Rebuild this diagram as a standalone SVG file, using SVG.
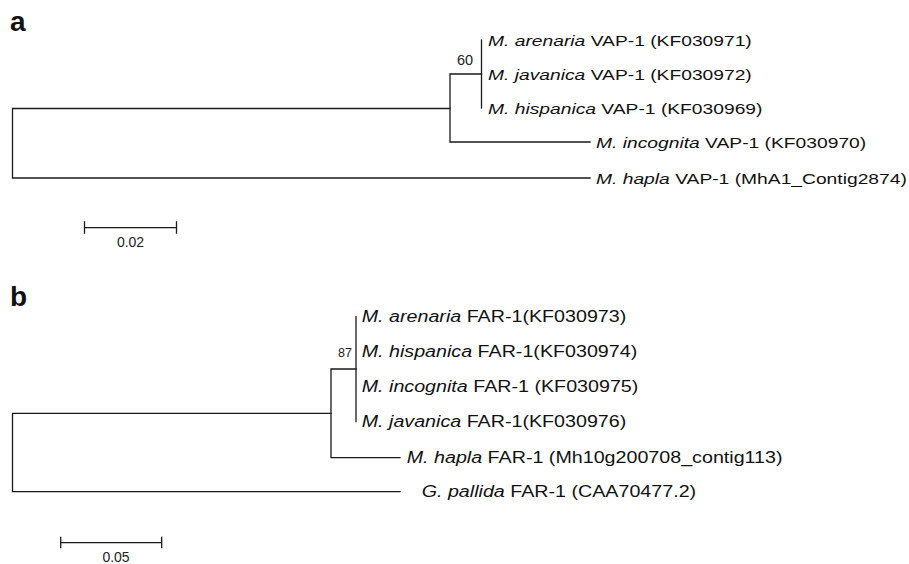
<svg xmlns="http://www.w3.org/2000/svg" width="909" height="564" viewBox="0 0 909 564">
<style>
  .br { fill: none; stroke: #1a1a1a; stroke-width: 1.3; stroke-linecap: square; }
  .lab { font-family: "Liberation Sans", Arial, sans-serif; fill: #111; }
  .la { font-size: 15.4px; }
  .lb { font-size: 15.75px; }
  .sp { font-style: italic; }
  .panel { font-family: "Liberation Sans", Arial, sans-serif; font-weight: bold; font-size: 28px; fill: #111; }
  .boot { font-family: "Liberation Sans", Arial, sans-serif; fill: #222; }
  .scale { font-family: "Liberation Sans", Arial, sans-serif; font-size: 14px; fill: #222; text-anchor: middle; }
</style>
<rect width="909" height="564" fill="#ffffff"/>

<text class="panel" x="10" y="31">a</text>
<text class="panel" x="10" y="306">b</text>

<g id="connectors">
  <!-- panel a -->
  <path class="br" d="M12.5,108.5 V178 M12.5,108.5 H450 M12.5,178 H590"/>
  <path class="br" d="M450,74 V142 M450,74 H481.5 M450,142 H590"/>
  <path class="br" d="M481.5,40 V108"/>
  <!-- panel b -->
  <path class="br" d="M12.5,413.3 V491.7 M12.5,413.3 H331 M12.5,491.7 H400"/>
  <path class="br" d="M331,369 V457.7 M331,369 H356 M331,457.7 H400"/>
  <path class="br" d="M356,316.7 V421.5"/>
</g>

<g id="a-node-60"><text class="boot" x="465" y="65" font-size="14.5" text-anchor="middle">60</text></g>
<g id="a-arenaria"><text class="lab la" transform="translate(488,45.5) scale(1.25,1)"><tspan class="sp">M. arenaria</tspan> VAP-1 (KF030971)</text></g>
<g id="a-javanica"><text class="lab la" transform="translate(488,79.5) scale(1.25,1)"><tspan class="sp">M. javanica</tspan> VAP-1 (KF030972)</text></g>
<g id="a-hispanica"><text class="lab la" transform="translate(488,113.5) scale(1.25,1)"><tspan class="sp">M. hispanica</tspan> VAP-1 (KF030969)</text></g>
<g id="a-incognita"><text class="lab la" transform="translate(596,147.5) scale(1.25,1)"><tspan class="sp">M. incognita</tspan> VAP-1 (KF030970)</text></g>
<g id="a-hapla"><text class="lab la" transform="translate(596,183.5) scale(1.25,1)"><tspan class="sp">M. hapla</tspan> VAP-1 (MhA1_Contig2874)</text></g>

<g id="a-scale">
  <path class="br" d="M84.5,227.7 H176.5 M84.5,222 V233 M176.5,222 V233"/>
  <text class="scale" x="130.5" y="246.5">0.02</text>
</g>

<g id="b-node-87"><text class="boot" x="352" y="357" font-size="12.5" text-anchor="end">87</text></g>
<g id="b-arenaria"><text class="lab lb" transform="translate(361.7,322.2) scale(1.25,1)"><tspan class="sp">M. arenaria</tspan> FAR-1(KF030973)</text></g>
<g id="b-hispanica"><text class="lab lb" transform="translate(361.7,357) scale(1.25,1)"><tspan class="sp">M. hispanica</tspan> FAR-1(KF030974)</text></g>
<g id="b-incognita"><text class="lab lb" transform="translate(361.7,391.8) scale(1.25,1)"><tspan class="sp">M. incognita</tspan> FAR-1 (KF030975)</text></g>
<g id="b-javanica"><text class="lab lb" transform="translate(361.7,426.6) scale(1.25,1)"><tspan class="sp">M. javanica</tspan> FAR-1(KF030976)</text></g>
<g id="b-hapla"><text class="lab lb" transform="translate(406.7,463.3) scale(1.25,1)"><tspan class="sp">M. hapla</tspan> FAR-1 (Mh10g200708_contig113)</text></g>
<g id="b-pallida"><text class="lab lb" transform="translate(421.7,497.3) scale(1.25,1)"><tspan class="sp">G. pallida</tspan> FAR-1 (CAA70477.2)</text></g>

<g id="b-scale">
  <path class="br" d="M60.7,542.7 H161.7 M60.7,537.5 V547.5 M161.7,537.5 V547.5"/>
  <text class="scale" x="116" y="562">0.05</text>
</g>
</svg>
